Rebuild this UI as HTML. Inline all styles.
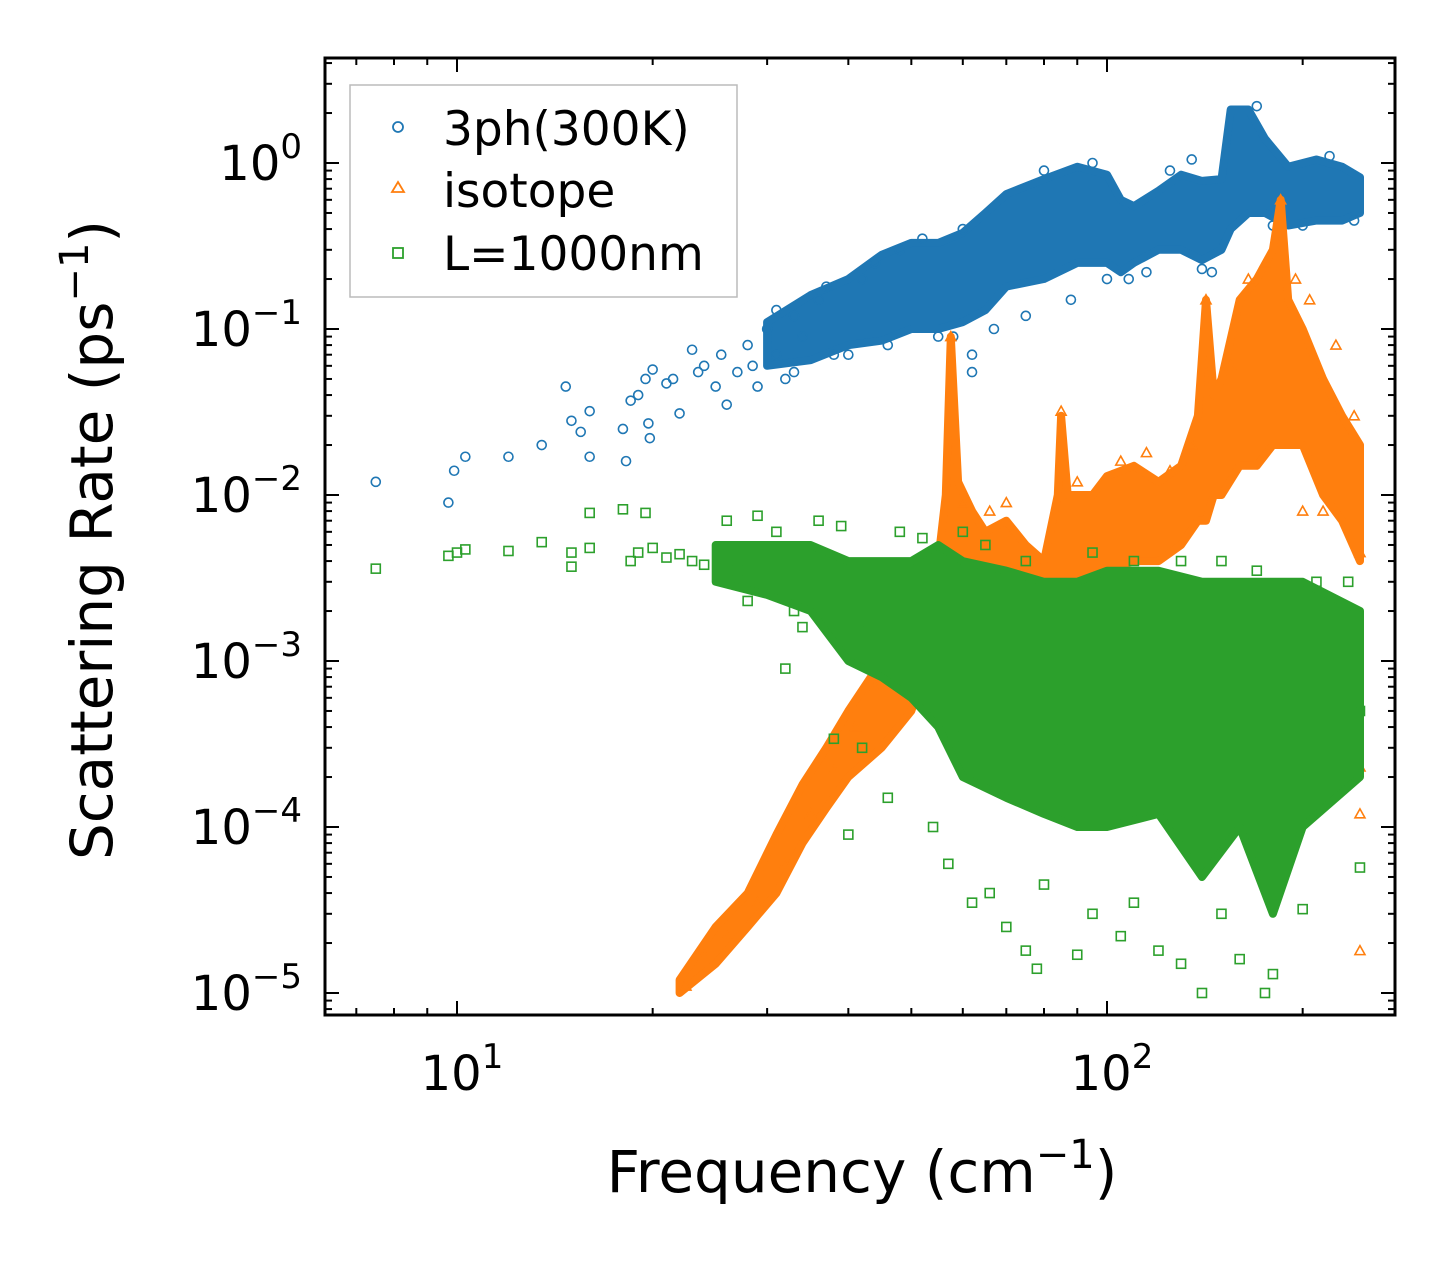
<!DOCTYPE html>
<html><head><meta charset="utf-8"><style>
html,body{margin:0;padding:0;background:#fff;}
svg{display:block;font-family:"DejaVu Sans","Liberation Sans",sans-serif;}
</style></head><body>
<svg id="chart" width="1455" height="1265" viewBox="0 0 1455 1265" xmlns="http://www.w3.org/2000/svg">
<g id="bands"></g>
<g id="pts"></g>
<g id="axes"></g>
<text x="862" y="1192" font-size="58" text-anchor="middle">Frequency (cm<tspan dy="-24" font-size="40">−1</tspan><tspan dy="24">)</tspan></text>
<text transform="translate(112,540) rotate(-90)" font-size="58" text-anchor="middle">Scattering Rate (ps<tspan dy="-24" font-size="40">−1</tspan><tspan dy="24">)</tspan></text>
<g>
<rect x="350" y="85" width="387" height="212" fill="#fff" fill-opacity="0.8" stroke="#bbb" stroke-width="1.5"/>
<circle cx="398" cy="127" r="5" fill="none" stroke="#1f77b4" stroke-width="1.8"/>
<text x="443" y="145" font-size="47">3ph(300K)</text>
<polygon points="398,182 404,192 392,192" fill="none" stroke="#ff7f0e" stroke-width="1.8"/>
<text x="443" y="207" font-size="47">isotope</text>
<rect x="393" y="248" width="10" height="10" fill="none" stroke="#2ca02c" stroke-width="1.8"/>
<text x="443" y="270" font-size="47">L=1000nm</text>
</g>
</svg>
<script>
// ---- data ----
const blueBand=[[30,0.06,0.11],[35,0.065,0.16],[40,0.08,0.2],[45,0.085,0.28],[50,0.1,0.33],[55,0.1,0.33],[60,0.11,0.38],[65,0.13,0.5],[70,0.18,0.65],[80,0.2,0.8],[90,0.25,0.95],[100,0.25,0.85],[105,0.22,0.6],[110,0.25,0.55],[120,0.3,0.68],[130,0.3,0.85],[140,0.26,0.78],[150,0.3,0.8],[155,0.4,2.1],[165,0.5,2.1],[175,0.5,1.4],[190,0.42,0.95],[210,0.45,1.05],[230,0.45,0.95],[245,0.5,0.82]];
const bluePts=[[7.5,0.012],[9.7,0.009],[9.9,0.014],[10.3,0.017],[12,0.017],[13.5,0.02],[14.7,0.045],[15,0.028],[15.5,0.024],[16,0.032],[16,0.017],[18,0.025],[18.2,0.016],[18.5,0.037],[19,0.04],[19.5,0.05],[19.7,0.027],[19.8,0.022],[20,0.057],[21,0.047],[21.5,0.05],[22,0.031],[23,0.075],[23.5,0.055],[24,0.06],[25,0.045],[25.5,0.07],[26,0.035],[27,0.055],[28,0.08],[28.5,0.06],[29,0.045],[30,0.1],[31,0.07],[32,0.05],[33,0.12],[34,0.09],[36,0.15],[38,0.07],[42,0.2],[48,0.3],[62,0.055],[62,0.07],[58,0.09],[88,0.15],[108,0.2],[145,0.22],[200,0.42],[31,0.13],[33,0.055],[37,0.18],[40,0.07],[44,0.25],[46,0.08],[52,0.35],[55,0.09],[60,0.4],[67,0.1],[75,0.12],[80,0.9],[95,1.0],[100,0.2],[115,0.22],[125,0.9],[135,1.05],[140,0.23],[170,2.2],[180,0.42],[220,1.1],[240,0.45]];
const orangeBand=[[22,1e-5,1.2e-5],[25,1.5e-5,2.5e-5],[28,2.5e-5,4e-5],[31,4e-5,9e-5],[34,8e-5,1.8e-4],[37,1.3e-4,3e-4],[40,2e-4,5e-4],[45,3e-4,1e-3],[50,5e-4,2e-3],[55,1.5e-3,4e-3],[56.5,2e-3,0.01],[57.5,2e-3,0.09],[59,2e-3,0.012],[62,1e-3,8e-3],[65,1e-3,6e-3],[70,1.5e-3,7e-3],[75,1.5e-3,5e-3],[80,2e-3,4e-3],[84,3e-3,1e-2],[85,3e-3,0.03],[87,3e-3,1e-2],[95,3e-3,1e-2],[100,3.5e-3,1.3e-2],[110,4e-3,1.5e-2],[120,4e-3,1.2e-2],[130,5e-3,1.5e-2],[138,7e-3,0.03],[142,7e-3,0.15],[146,0.01,0.04],[150,0.01,0.05],[160,0.015,0.15],[170,0.015,0.2],[180,0.02,0.3],[185,0.02,0.6],[190,0.02,0.15],[200,0.02,0.1],[215,0.01,0.05],[230,0.007,0.03],[245,0.004,0.02]];
const orangePts=[[22.5,1.1e-5],[24,1.7e-5],[26,2.2e-5],[29,3.5e-5],[32,6e-5],[35,1.2e-4],[38,2.2e-4],[41,4e-4],[44,7e-4],[47,1.2e-3],[57.5,0.09],[85,0.032],[142,0.15],[185,0.6],[200,0.008],[215,0.008],[245,1.2e-4],[245,1.8e-5],[245,2.3e-4],[245,4.5e-3],[60,0.009],[66,0.008],[70,0.009],[72,0.006],[90,0.012],[105,0.016],[115,0.018],[125,0.014],[135,0.02],[155,0.06],[165,0.2],[175,0.25],[195,0.2],[205,0.15],[225,0.08],[240,0.03]];
const greenBand=[[25,3e-3,5e-3],[30,2.5e-3,5e-3],[35,2e-3,5e-3],[40,1e-3,4e-3],[45,8e-4,4e-3],[50,6e-4,4e-3],[55,4e-4,5e-3],[60,2e-4,4e-3],[70,1.5e-4,3.5e-3],[80,1.2e-4,3e-3],[90,1e-4,3e-3],[100,1e-4,3.5e-3],[120,1.2e-4,3.5e-3],[140,5e-5,3e-3],[160,1e-4,3e-3],[180,3e-5,3e-3],[200,1e-4,3e-3],[245,2e-4,2e-3]];
const greenPts=[[7.5,3.6e-3],[9.7,4.3e-3],[10,4.5e-3],[10.3,4.7e-3],[12,4.6e-3],[13.5,5.2e-3],[15,3.7e-3],[15,4.5e-3],[16,4.8e-3],[16,7.8e-3],[18,8.2e-3],[18.5,4e-3],[19,4.5e-3],[19.5,7.8e-3],[20,4.8e-3],[21,4.2e-3],[22,4.4e-3],[24,3.8e-3],[26,7e-3],[28,2.3e-3],[29,7.5e-3],[30,3e-3],[32,9e-4],[34,1.6e-3],[36,7e-3],[38,3.4e-4],[40,9e-5],[42,3e-4],[46,1.5e-4],[54,1e-4],[57,6e-5],[58,3.5e-4],[62,3.5e-5],[66,4e-5],[70,2.5e-5],[75,1.8e-5],[78,1.4e-5],[80,4.5e-5],[90,1.7e-5],[95,3e-5],[105,2.2e-5],[110,3.5e-5],[120,1.8e-5],[130,1.5e-5],[140,1e-5],[150,3e-5],[160,1.6e-5],[175,1e-5],[180,1.3e-5],[200,3.2e-5],[245,5.7e-5],[245,5e-4],[23,4e-3],[27,3.5e-3],[31,6e-3],[33,2e-3],[37,2.5e-3],[39,6.5e-3],[43,1.5e-3],[48,6e-3],[52,5.5e-3],[60,6e-3],[65,5e-3],[75,4e-3],[85,3e-4],[95,4.5e-3],[110,4e-3],[130,4e-3],[150,4e-3],[170,3.5e-3],[210,3e-3],[235,3e-3]];
// ---- axes ----
const X0=325,X1=1395,Y0=58,Y1=1015;
const xs=f=>457+650*Math.log10(f/10);
const ys=v=>163-166*Math.log10(v);
const NS="http://www.w3.org/2000/svg";
function mk(tag,attrs,parent){const e=document.createElementNS(NS,tag);for(const k in attrs)e.setAttribute(k,attrs[k]);parent.appendChild(e);return e;}
const bands=document.getElementById('bands'),pts=document.getElementById('pts'),axes=document.getElementById('axes');
function band(data,color,name){
  const top=data.map(d=>xs(d[0]).toFixed(1)+','+ys(d[2]).toFixed(1));
  const bot=data.slice().reverse().map(d=>xs(d[0]).toFixed(1)+','+ys(d[1]).toFixed(1));
  const p=mk('polygon',{points:top.concat(bot).join(' '),fill:color,stroke:color,'stroke-width':8,'stroke-linejoin':'round'},bands);
  
  
}
function scatter(data,color,shape,name,g){
  data.forEach(d=>{
    const x=xs(d[0]),y=ys(d[1]);let e;
    if(shape==='c')e=mk('circle',{cx:x,cy:y,r:4.5,fill:'none',stroke:color,'stroke-width':1.6},g);
    else if(shape==='t')e=mk('polygon',{points:`${x},${y-5} ${x+5},${y+4} ${x-5},${y+4}`,fill:'none',stroke:color,'stroke-width':1.6},g);
    else e=mk('rect',{x:x-4.5,y:y-4.5,width:9,height:9,fill:'none',stroke:color,'stroke-width':1.6},g);
    
    
  });
}
band(blueBand,'#1f77b4','band-3ph');scatter(bluePts,'#1f77b4','c','point-3ph',bands);
band(orangeBand,'#ff7f0e','band-isotope');scatter(orangePts,'#ff7f0e','t','point-isotope',bands);
band(greenBand,'#2ca02c','band-boundary');scatter(greenPts,'#2ca02c','s','point-boundary',bands);
const fr=mk('rect',{x:X0,y:Y0,width:X1-X0,height:Y1-Y0,fill:'none',stroke:'#000','stroke-width':3},axes);


// x ticks
for(let dec=0;dec<3;dec++){for(let m=1;m<10;m++){const f=m*Math.pow(10,dec);const x=xs(f);if(x<X0||x>X1)continue;const L=m===1?14:7;
  mk('line',{x1:x,y1:Y1,x2:x,y2:Y1-L,stroke:'#000','stroke-width':2},axes);mk('line',{x1:x,y1:Y0,x2:x,y2:Y0+L,stroke:'#000','stroke-width':2},axes);}}
const xTicks=[1,2];
xTicks.forEach(e=>{const t=mk('text',{x:xs(Math.pow(10,e))+5,y:1090,'font-size':48,'text-anchor':'middle'},axes);t.textContent='10';
  
  
  const s=mk('tspan',{dy:-22,'font-size':34},t);s.textContent=String(e);});
// y ticks
for(let e=-6;e<=1;e++){for(let m=1;m<10;m++){const v=m*Math.pow(10,e);const y=ys(v);if(y<Y0||y>Y1)continue;const L=m===1?14:7;
  mk('line',{x1:X0,y1:y,x2:X0+L,y2:y,stroke:'#000','stroke-width':2},axes);mk('line',{x1:X1,y1:y,x2:X1-L,y2:y,stroke:'#000','stroke-width':2},axes);}}
const yTicks=[0,-1,-2,-3,-4,-5];
yTicks.forEach(e=>{const t=mk('text',{x:302,y:ys(Math.pow(10,e))+17,'font-size':48,'text-anchor':'end'},axes);t.textContent='10';
  
  
  const s=mk('tspan',{dy:-22,'font-size':34},t);s.textContent=e===0?'0':'−'+(-e);});
</script>
</body></html>
